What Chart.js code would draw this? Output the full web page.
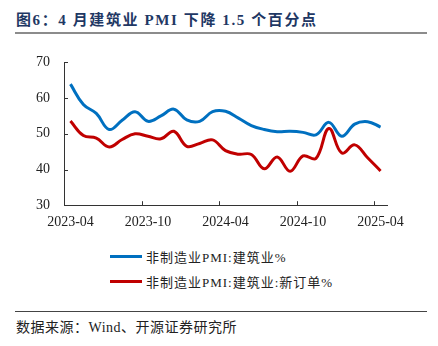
<!DOCTYPE html>
<html>
<head>
<meta charset="utf-8">
<script src="https://cdn.jsdelivr.net/npm/chart.js@4"></script>
<style>
body{margin:0;width:438px;height:346px;background:#fff;position:relative;overflow:hidden;font-family:"Liberation Serif","Noto Sans CJK SC",serif}
#title{position:absolute;left:16px;top:11px;font-size:15px;font-weight:bold;color:#1f3864;white-space:nowrap;line-height:18px;letter-spacing:1.6px}
#titleLine{position:absolute;left:15px;top:32px;width:412px;height:2px;background:#8c8c8c}
#wrap{position:absolute;left:0;top:40px;width:438px;height:200px}
#legend{position:absolute;left:110px;top:244px;font-size:13px;color:#222;letter-spacing:1px}
.item{display:flex;align-items:center;height:25px;white-space:nowrap}
.swatch{width:32px;height:3px;margin-right:4px}
#footLine{position:absolute;left:15px;top:311px;width:412px;height:1px;background:#444}
#source{position:absolute;left:16px;top:316px;font-size:14px;color:#222;white-space:nowrap;letter-spacing:0.5px}
</style>
</head>
<body>
<div id="title">图6：4 月建筑业 PMI 下降 1.5 个百分点</div>
<div id="titleLine"></div>
<div id="wrap"><canvas id="myChart"></canvas></div>
<div id="legend"></div>
<div id="footLine"></div>
<div id="source">数据来源：Wind、开源证券研究所</div>
<script>
const months = ["2023-04","2023-05","2023-06","2023-07","2023-08","2023-09","2023-10","2023-11","2023-12",
  "2024-01","2024-02","2024-03","2024-04","2024-05","2024-06","2024-07","2024-08","2024-09","2024-10",
  "2024-11","2024-12","2025-01","2025-02","2025-03","2025-04"]
const shownLabels = ["2023-04","2023-10","2024-04","2024-10","2025-04"]
const yTicks = [30, 40, 50, 60, 70]

const pmi = [63.9,58.2,55.7,51.2,53.8,56.2,53.5,55.0,56.9,53.9,53.5,56.2,56.3,54.4,52.3,51.2,50.6,50.7,50.4,49.7,53.2,49.3,52.7,53.4,51.9]
const newOrders = [53.6,49.5,48.8,46.3,48.4,50.0,49.3,48.6,50.7,46.5,47.3,48.3,45.3,44.3,44.2,40.2,43.5,39.5,43.8,43.1,51.5,44.6,46.9,43.3,39.6]

const names = ["非制造业PMI:建筑业%", "非制造业PMI:建筑业:新订单%"]
const colors = ["#0070c0", "#c00000"]

const font = {family: '"Liberation Serif","Noto Sans CJK SC",serif', size: 14}

// little tick marks pointing into the plot, like the original
const innerTicks = {
  id: "innerTicks",
  afterDraw(chart) {
    const ctx = chart.ctx
    const x = chart.scales.x
    const y = chart.scales.y
    const half = (x.getPixelForValue(1) - x.getPixelForValue(0)) / 2
    ctx.save()
    ctx.strokeStyle = "#333"
    ctx.lineWidth = 1
    ctx.beginPath()
    months.forEach((m, i) => {
      if (shownLabels.includes(m)) {
        const px = Math.round(x.getPixelForValue(i) - half) + 0.5
        ctx.moveTo(px, y.bottom)
        ctx.lineTo(px, y.bottom - 4)
      }
    })
    yTicks.forEach(v => {
      const py = Math.round(y.getPixelForValue(v)) + 0.5
      ctx.moveTo(x.left, py)
      ctx.lineTo(x.left + 4, py)
    })
    ctx.stroke()
    ctx.restore()
  }
}

new Chart(document.getElementById("myChart"), {
  type: "line",
  data: {
    labels: months,
    datasets: [
      {label: names[0], data: pmi, borderColor: colors[0], backgroundColor: colors[0]},
      {label: names[1], data: newOrders, borderColor: colors[1], backgroundColor: colors[1]}
    ]
  },
  options: {
    responsive: true,
    maintainAspectRatio: false,
    animation: false,
    layout: {padding: {top: 14, right: 51, bottom: 0, left: 0}},
    elements: {
      line: {borderWidth: 3, tension: 0.4},
      point: {radius: 0}
    },
    plugins: {legend: {display: false}, tooltip: {enabled: false}},
    scales: {
      x: {
        type: "category",
        offset: true,
        grid: {display: false, drawTicks: false},
        border: {display: true, color: "#333", width: 1},
        ticks: {
          autoSkip: false, maxRotation: 0, padding: 9, color: "#222", font: font,
          callback: (v, i) => shownLabels.includes(months[i]) ? months[i] : ""
        }
      },
      y: {
        min: 30, max: 70,
        afterFit: s => { s.width = 64 },
        grid: {display: false, drawTicks: false},
        border: {display: true, color: "#333", width: 1},
        ticks: {stepSize: 10, padding: 14, color: "#222", font: font}
      }
    }
  },
  plugins: [innerTicks]
})

const legend = document.getElementById("legend")
names.forEach((n, i) => {
  const item = document.createElement("div")
  item.className = "item"
  const sw = document.createElement("span")
  sw.className = "swatch"
  sw.style.background = colors[i]
  const txt = document.createElement("span")
  txt.innerText = n
  item.appendChild(sw)
  item.appendChild(txt)
  legend.appendChild(item)
})
</script>
</body>
</html>
